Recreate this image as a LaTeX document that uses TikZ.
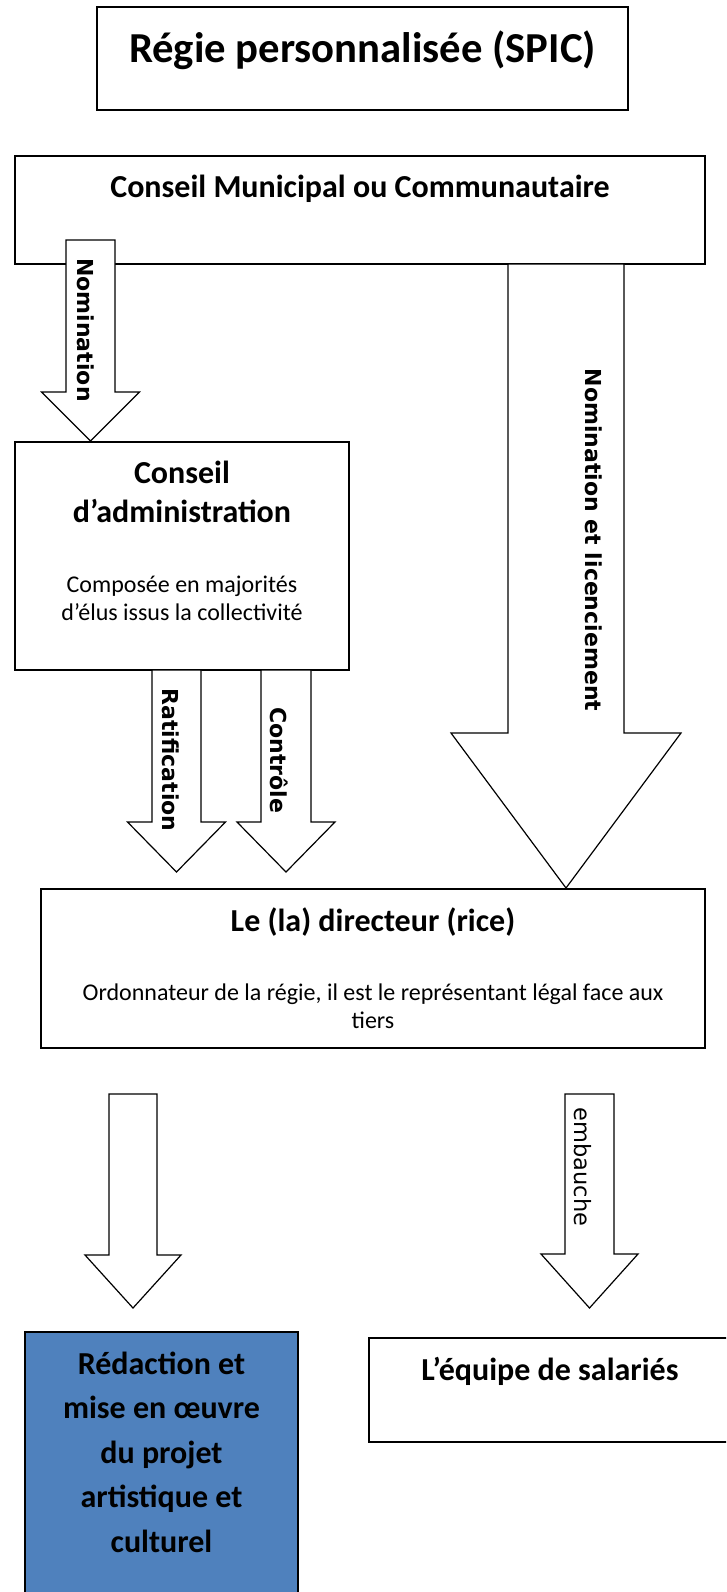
\documentclass[tikz,border=0pt]{standalone}
\usepackage{fontspec}
\setmainfont{Carlito}
\newfontfamily\dvs{DejaVu Sans}
\definecolor{boxblue}{HTML}{4F81BD}
\tikzset{
  box/.style={draw=black, line width=1.6pt, fill=white, inner sep=0pt, outer sep=0pt, anchor=north west},
  bluebox/.style={box, fill=boxblue},
  barrow/.style={draw=black, line width=1.2pt, fill=white, line join=miter},
  headtxt/.style={anchor=base, inner sep=0pt, font=\fontsize{32}{39}\selectfont\bfseries},
  bodytxt/.style={anchor=base, inner sep=0pt, font=\fontsize{24}{29}\selectfont},
  rottxt/.style={anchor=base, inner sep=0pt, rotate=-90, font=\dvs\fontsize{22}{26}\selectfont\bfseries},
  rotreg/.style={anchor=base, inner sep=0pt, rotate=-90, font=\dvs\fontsize{22.5}{26}\selectfont},
}
\newcommand\blockarrow[7]{% name, cx, ytop, yhead, ytip, half shaft, half head
  \draw[barrow] ({#2-#6},#3) -- ({#2+#6},#3) -- ({#2+#6},#4) -- ({#2+#7},#4)
    -- (#2,#5) coordinate (#1tip) -- ({#2-#7},#4) -- ({#2-#6},#4) -- cycle;}
\begin{document}
\begin{tikzpicture}[x=1pt,y=-1pt]
\useasboundingbox (0,0) rectangle (726,1592);
\clip (0,0) rectangle (726,1592);

% boxes
\node[box, minimum width=531pt, minimum height=103pt] (title) at (97,7) {};
\node[box, minimum width=690pt, minimum height=108pt] (cmc) at (15,156) {};
\node[box, minimum width=334pt, minimum height=228pt] (ca) at (15,442) {};
\node[box, minimum width=664pt, minimum height=159pt] (dir) at (41,889) {};
\node[bluebox, minimum width=273pt, minimum height=300pt] (proj) at (25,1332) {};
\node[box, minimum width=362pt, minimum height=104pt] (equipe) at (369,1338) {};

% texts in boxes
\node[anchor=base, inner sep=0pt, font=\fontsize{42.7}{50}\selectfont\bfseries] (titletxt) at (362.5,63) {Régie personnalisée (SPIC)};
\node[headtxt] (cmctxt) at (360,197) {Conseil Municipal ou Communautaire};
\node[headtxt] (catxt1) at (182,483) {Conseil};
\node[headtxt] (catxt2) at (182,522) {d’administration};
\node[bodytxt] (catxt3) at (182,592) {Composée en majorités};
\node[bodytxt] (catxt4) at (182,620) {d’élus issus la collectivité};
\node[headtxt] (dirtxt1) at (373,931) {Le (la) directeur (rice)};
\node[bodytxt] (dirtxt2) at (373,1000) {Ordonnateur de la régie, il est le représentant légal face aux};
\node[bodytxt] (dirtxt3) at (373,1028) {tiers};
\node[headtxt] (equipetxt) at (550,1380) {L’équipe de salariés};
\node[headtxt] (projtxt1) at (161.5,1374) {Rédaction et};
\node[headtxt] (projtxt2) at (161.5,1418) {mise en œuvre};
\node[headtxt] (projtxt3) at (161.5,1463) {du projet};
\node[headtxt] (projtxt4) at (161.5,1507) {artistique et};
\node[headtxt] (projtxt5) at (161.5,1552) {culturel};

% block arrows
\blockarrow{nom}{90.5}{240}{392}{441}{24.5}{49}
\blockarrow{nomlic}{566}{264}{733}{888}{58}{115}
\blockarrow{ratif}{176.5}{670}{822}{872}{24.5}{49}
\blockarrow{ctrl}{286}{670}{822}{872}{25}{49}
\blockarrow{proja}{133}{1094}{1255}{1308}{24}{48}
\blockarrow{emb}{589.5}{1094}{1254}{1308}{24.5}{48.5}

% arrow labels
\node[rottxt] (nomtxt) at (77,330) {Nomination};
\node[rottxt] (nomlictxt) at (585,540) {Nomination et licenciement};
\node[rottxt] (ratiftxt) at (162,760) {Ratification};
\node[rottxt] (ctrltxt) at (270,760) {Contrôle};
\node[rotreg] (embtxt) at (574,1167) {embauche};
\end{tikzpicture}
\end{document}
